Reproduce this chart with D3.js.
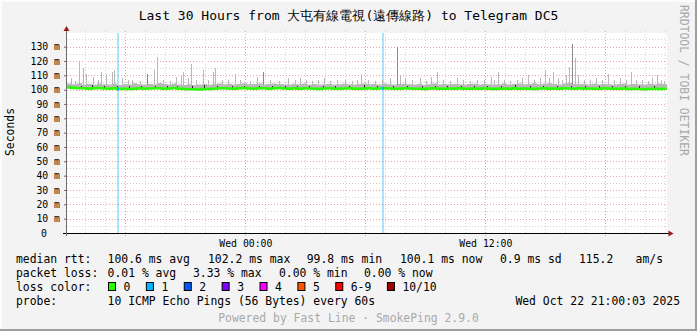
<!DOCTYPE html>
<html>
<head>
<meta charset="utf-8">
<script src="https://cdn.jsdelivr.net/npm/d3@7"></script>
<style>
body { margin: 0; background: #f3f3f3; }
svg { display: block; }
text { font-family: "DejaVu Sans Mono", monospace; }
</style>
</head>
<body>
<div id="chart"></div>
<script>
// ---- data ----
const startTime = new Date(2025, 9, 21, 15, 5);
const endTime = new Date(2025, 9, 22, 21, 5);
const stepMinutes = 15;

// median rtt (ms), one value per 15 minutes
const medianRtt = [
    101.4, 101.2, 100.9, 101.0, 100.7, 100.9, 101.1, 100.8, 100.6, 100.9, 100.5, 100.7, 100.4, 100.6, 100.9, 100.7, 100.8, 101.0, 100.9, 100.6,
    100.8, 101.1, 100.7, 100.4, 100.2, 100.3, 100.1, 100.5, 100.4, 100.7, 100.9, 101.0, 100.8, 100.6, 100.9, 101.1, 100.8, 100.7, 101.0, 100.9,
    100.7, 100.9, 101.2, 100.8, 100.6, 100.9, 100.7, 101.0, 100.8, 100.6, 100.5, 100.8, 100.9, 100.7, 100.6, 100.8, 100.9, 100.7, 100.6, 100.8,
    100.9, 100.7, 100.8, 101.0, 100.8, 100.6, 100.7, 100.9, 100.8, 100.6, 100.7, 100.5, 100.8, 100.9, 100.7, 100.6, 100.8, 100.7, 100.9, 100.6,
    100.7, 100.8, 100.6, 100.9, 100.7, 100.5, 100.6, 100.8, 100.7, 100.9, 100.6, 100.8, 100.7, 100.5, 100.8, 100.9, 100.7, 100.8, 100.6, 100.9,
    100.8, 100.6, 100.9, 100.7, 100.8, 100.6, 100.7, 100.9, 100.8, 100.6, 100.7, 100.8, 100.5, 100.7, 100.4, 100.3, 100.5, 100.6, 100.4, 100.7
];

// top of the dense smoke (ms), same steps
const smokeTop = [
    104.2, 103.8, 104.5, 103.6, 104.0, 103.4, 104.3, 103.7, 103.5, 104.1, 103.3, 103.9, 103.6, 104.4, 103.8, 103.5, 104.0, 103.7, 104.6, 103.9,
    103.5, 104.2, 103.6, 103.3, 103.8, 103.2, 103.5, 104.0, 103.4, 103.9, 104.3, 103.8, 104.1, 103.6, 104.0, 104.4, 103.7, 103.9, 104.2, 103.6,
    103.9, 104.3, 104.0, 103.7, 103.5, 104.1, 103.8, 104.2, 103.6, 103.9, 103.4, 103.8, 104.0, 103.6, 103.7, 104.1, 103.8, 103.5, 103.9, 104.2,
    103.7, 104.0, 103.6, 104.3, 103.8, 103.5, 103.9, 104.1, 103.7, 103.6, 104.0, 103.4, 103.8, 104.2, 103.6, 103.9, 103.7, 104.0, 103.8, 103.5,
    103.9, 104.1, 103.6, 104.0, 103.7, 103.5, 103.8, 104.2, 103.6, 103.9, 104.3, 103.7, 104.0, 104.4, 103.8, 104.1, 104.5, 103.9, 103.6, 104.2,
    104.6, 104.0, 103.7, 103.9, 103.6, 104.1, 103.8, 104.0, 103.7, 103.5, 103.9, 104.2, 103.6, 104.0, 103.8, 103.5, 104.1, 103.7, 104.3, 103.9
];

// single high pings (minutes after start, ms)
const spikeMinute = [12, 24, 36, 48, 57, 78, 93, 102, 117, 135, 141, 165, 183, 195, 219, 261, 270, 288, 309, 327,
    342, 348, 363, 372, 387, 408, 423, 438, 444, 465, 483, 504, 519, 549, 570, 609, 636, 663, 684, 699,
    717, 735, 753, 771, 789, 810, 834, 855, 870, 882, 903, 924, 945, 969, 999, 1014, 1035, 1059, 1077, 1092,
    1110, 1128, 1149, 1170, 1188, 1209, 1230, 1251, 1272, 1281, 1293, 1311, 1329, 1350, 1365, 1383, 1401, 1419, 1434, 1446,
    1458, 1473, 1485, 1497, 1506, 1524, 1533, 1551, 1569, 1587, 1605, 1623, 1641, 1659, 1677, 1692, 1707, 1725, 1743, 1755,
    1770, 1782, 1791];
const spikeMs = [108, 106, 119.5, 115, 111, 109, 107, 112, 111, 112, 114, 108, 107, 107, 106, 114, 123, 107, 106, 109,
    110, 112, 108, 118, 107, 114, 107, 112, 115, 107, 107, 111, 107, 106, 109, 107, 106, 108, 107, 108,
    107, 106, 107, 108, 106, 107, 107, 106, 107, 111, 107, 106, 107, 108, 110, 108, 107, 108, 106, 109,
    112, 107, 106, 108, 107, 106, 107, 107, 109, 107, 112, 107, 106, 107, 108, 110, 107, 108, 114, 108,
    112, 108, 107, 110, 116, 122, 110, 107, 107, 108, 107, 111, 107, 108, 107, 112, 107, 107, 106, 108,
    110, 107, 106];

// several high pings in one step (darker smoke)
const darkSpikeMinute = [240, 588, 990, 1515];
const darkSpikeMs = [111, 112, 130, 132];

// near-median dark specks (minutes after start, ms)
const speckMinute = [9, 42, 75, 111, 150, 186, 222, 264, 300, 330, 375, 411, 450, 495, 531, 576, 615, 654, 690, 726,
    768, 804, 846, 891, 930, 978, 1020, 1065, 1104, 1140, 1182, 1221, 1260, 1302, 1344, 1389, 1428, 1470, 1512, 1554,
    1596, 1635, 1674, 1716, 1761];
const speckMs = [102.6, 102.3, 102.9, 102.4, 102.7, 102.2, 102.5, 102.8, 102.3, 102.6, 102.4, 102.9, 102.5, 102.3, 102.7, 102.4, 102.8, 102.2, 102.6, 102.5,
    102.3, 102.7, 102.4, 102.9, 102.5, 102.3, 102.6, 102.8, 102.4, 102.5, 102.7, 102.3, 102.6, 102.4, 102.9, 102.5, 102.3, 102.7, 102.6, 102.4,
    102.8, 102.5, 102.3, 102.6, 102.4];

// loss events (minutes after start, pings lost of 10)
const lossMinute = [150, 945];
const lossCount = [1, 1];

const lossLabels = ["0", "1", "2", "3", "4", "5", "6-9", "10/10"];
const lossColors = ["#26ff00", "#00b8ff", "#0059ff", "#7e00ff", "#ff00ff", "#ff5500", "#ff0000", "#a10000"];

const yTicks = [0, 10, 20, 30, 40, 50, 60, 70, 80, 90, 100, 110, 120, 130];

const title = "Last 30 Hours from 大屯有線電視(遠傳線路) to Telegram DC5";
const rttStats = ["median rtt:", "100.6 ms avg", "102.2 ms max", "99.8 ms min", "100.1 ms now", "0.9 ms sd", "115.2", "am/s"];
const lossStats = ["packet loss:", "0.01 % avg", "3.33 % max", "0.00 % min", "0.00 % now"];
const probeInfo = ["probe:", "10 ICMP Echo Pings (56 Bytes) every 60s", "Wed Oct 22 21:00:03 2025"];
const footer = "Powered by Fast Line · SmokePing 2.9.0";
const watermark = "RRDTOOL / TOBI OETIKER";

// ---- drawing ----
function drawChart() {
    const width = 697, height = 331;
    const plot = { left: 67, right: 667, top: 33, bottom: 233 };

    const svg = d3.select("#chart").append("svg")
        .attr("width", width)
        .attr("height", height);

    // canvas + 3d frame
    svg.append("rect").attr("width", width).attr("height", height).attr("fill", "#f3f3f3");
    svg.append("rect").attr("x", 0).attr("y", 0).attr("width", width).attr("height", 2).attr("fill", "#fcfcfc");
    svg.append("rect").attr("x", 0).attr("y", 0).attr("width", 2).attr("height", height).attr("fill", "#fcfcfc");
    svg.append("rect").attr("x", width - 2).attr("y", 0).attr("width", 2).attr("height", height).attr("fill", "#9e9e9e");
    svg.append("rect").attr("x", 0).attr("y", height - 2).attr("width", width).attr("height", 2).attr("fill", "#9e9e9e");

    const x = d3.scaleTime().domain([startTime, endTime]).range([plot.left, plot.right]);
    const y = d3.scaleLinear().domain([0, 139.5]).range([plot.bottom, plot.top]);
    const atMin = m => new Date(startTime.getTime() + m * 60000);

    svg.append("rect")
        .attr("x", plot.left).attr("y", plot.top)
        .attr("width", plot.right - plot.left).attr("height", plot.bottom - plot.top)
        .attr("fill", "#ffffff");

    // grid
    const grid = svg.append("g").attr("shape-rendering", "crispEdges");
    const minorY = d3.range(5, 140, 10);
    grid.selectAll(".ymin").data(minorY).join("line")
        .attr("x1", plot.left).attr("x2", plot.right)
        .attr("y1", d => Math.round(y(d)) + 0.5).attr("y2", d => Math.round(y(d)) + 0.5)
        .attr("stroke", "#d4d4d4").attr("stroke-dasharray", "1,2");
    grid.selectAll(".ymaj").data(yTicks.slice(1)).join("line")
        .attr("x1", plot.left - 3).attr("x2", plot.right)
        .attr("y1", d => Math.round(y(d)) + 0.5).attr("y2", d => Math.round(y(d)) + 0.5)
        .attr("stroke", "#f0a0a0").attr("stroke-dasharray", "1,2");

    const hours = d3.timeHour.range(d3.timeHour.ceil(startTime), endTime);
    grid.selectAll(".xg").data(hours).join("line")
        .attr("x1", d => Math.round(x(d)) + 0.5).attr("x2", d => Math.round(x(d)) + 0.5)
        .attr("y1", plot.top - 2).attr("y2", d => d.getHours() % 6 === 0 ? plot.bottom + 3 : plot.bottom)
        .attr("stroke", d => d.getHours() % 6 === 0 ? "#f0a0a0" : "#d4d4d4")
        .attr("stroke-dasharray", "1,2");

    // loss background bars
    svg.append("g").attr("shape-rendering", "crispEdges")
        .selectAll("rect").data(lossMinute).join("rect")
        .attr("x", d => Math.round(x(atMin(d))))
        .attr("y", plot.top)
        .attr("width", 2)
        .attr("height", plot.bottom - plot.top)
        .attr("fill", (d, i) => lossColors[Math.min(lossCount[i], 7)])
        .attr("fill-opacity", 0.35);

    // smoke
    const steps = medianRtt.map((v, i) => ({ t: atMin(i * stepMinutes), med: v, top: smokeTop[i] }));
    steps.push({ t: endTime, med: medianRtt[medianRtt.length - 1], top: smokeTop[smokeTop.length - 1] });

    svg.append("path")
        .datum(steps)
        .attr("fill", "#b8b8b8")
        .attr("d", d3.area().curve(d3.curveStepAfter)
            .x(d => x(d.t)).y0(d => y(d.med)).y1(d => y(d.top)));

    const spikes = svg.append("g").attr("shape-rendering", "crispEdges");
    spikes.selectAll(".sp").data(spikeMinute).join("line")
        .attr("x1", d => Math.round(x(atMin(d))) + 0.5).attr("x2", d => Math.round(x(atMin(d))) + 0.5)
        .attr("y1", y(103)).attr("y2", (d, i) => y(spikeMs[i]))
        .attr("stroke", "#b8b8b8");
    spikes.selectAll(".dsp").data(darkSpikeMinute).join("line")
        .attr("x1", d => Math.round(x(atMin(d))) + 0.5).attr("x2", d => Math.round(x(atMin(d))) + 0.5)
        .attr("y1", y(103)).attr("y2", (d, i) => y(darkSpikeMs[i]))
        .attr("stroke", "#8c8c8c");
    spikes.selectAll(".sk").data(speckMinute).join("rect")
        .attr("x", d => Math.round(x(atMin(d))))
        .attr("y", (d, i) => y(speckMs[i]))
        .attr("width", 1).attr("height", 3)
        .attr("fill", "#222");

    // median line
    svg.append("path")
        .datum(steps)
        .attr("fill", "none")
        .attr("stroke", lossColors[0])
        .attr("stroke-width", 2.5)
        .attr("d", d3.line().curve(d3.curveStepAfter).x(d => x(d.t)).y(d => y(d.med)));

    svg.append("g").selectAll("rect").data(lossMinute).join("rect")
        .attr("x", d => Math.round(x(atMin(d))))
        .attr("y", d => y(medianRtt[Math.floor(d / stepMinutes)]) - 1.5)
        .attr("width", 2).attr("height", 3)
        .attr("fill", (d, i) => lossColors[Math.min(lossCount[i], 7)]);

    // axes
    const yAxis = svg.append("g")
        .attr("transform", `translate(${plot.left},0)`)
        .call(d3.axisLeft(y).tickValues(yTicks).tickSize(3).tickPadding(4)
            .tickFormat(d => d === 0 ? "0" : d + " m"));
    yAxis.select(".domain").remove();
    yAxis.selectAll(".tick line").attr("stroke", "#777");
    yAxis.selectAll("text")
        .style("font-family", "DejaVu Sans Mono")
        .style("font-size", "9.8px")
        .attr("fill", "#000")
        .attr("dx", d => d === 0 ? -13 : 0);

    const xAxis = svg.append("g")
        .attr("transform", `translate(0,${plot.bottom})`)
        .call(d3.axisBottom(x).tickValues(hours.filter(h => h.getHours() % 12 === 0))
            .tickSize(0).tickPadding(7).tickFormat(d3.timeFormat("%a %H:%M")));
    xAxis.select(".domain").remove();
    xAxis.selectAll("text")
        .style("font-family", "DejaVu Sans Mono")
        .style("font-size", "9.8px")
        .attr("fill", "#000");

    svg.append("line")
        .attr("x1", plot.left - 4).attr("x2", plot.right + 2)
        .attr("y1", plot.bottom + 0.5).attr("y2", plot.bottom + 0.5)
        .attr("stroke", "#000").attr("shape-rendering", "crispEdges");
    svg.append("line")
        .attr("x1", plot.left - 0.5).attr("x2", plot.left - 0.5)
        .attr("y1", plot.bottom + 3).attr("y2", plot.top - 3)
        .attr("stroke", "#6e6e6e").attr("shape-rendering", "crispEdges");
    svg.append("path")
        .attr("d", `M${plot.left - 3.5},${plot.top - 2}L${plot.left - 0.5},${plot.top - 7}L${plot.left + 2.5},${plot.top - 2}Z`)
        .attr("fill", "#9b1b1b");
    svg.append("path")
        .attr("d", `M${plot.right + 1.5},${plot.bottom - 2.5}L${plot.right + 6.5},${plot.bottom + 0.5}L${plot.right + 1.5},${plot.bottom + 3.5}Z`)
        .attr("fill", "#9b1b1b");

    // texts
    svg.append("text")
        .attr("x", width / 2).attr("y", 19.5)
        .attr("text-anchor", "middle")
        .style("font-size", "13px")
        .text(title);

    svg.append("text")
        .attr("transform", "translate(14,132) rotate(-90)")
        .attr("text-anchor", "middle")
        .style("font-size", "11.4px")
        .text("Seconds");

    svg.append("text")
        .attr("transform", "translate(680,5) rotate(90)")
        .style("font-size", "11.4px")
        .attr("fill", "#a8a8a8")
        .text(watermark);

    const legend = svg.append("g").style("font-size", "11.4px");
    const rttX = [16, 107.6, 208, 306.7, 400, 500, 579, 635.6];
    legend.selectAll(".rtt").data(rttStats).join("text")
        .attr("x", (d, i) => rttX[i]).attr("y", 263).text(d => d);
    const lossX = [16, 107.6, 193, 279, 364];
    legend.selectAll(".loss").data(lossStats).join("text")
        .attr("x", (d, i) => lossX[i]).attr("y", 277).text(d => d);

    legend.append("text").attr("x", 16).attr("y", 290.5).text("loss color:");
    const charW = 6.88;
    let bx = 108;
    lossLabels.forEach((lab, i) => {
        legend.append("rect")
            .attr("x", bx + 0.5).attr("y", 282.5).attr("width", 7).attr("height", 8)
            .attr("fill", lossColors[i]).attr("stroke", "#000");
        legend.append("text").attr("x", bx + 15.5).attr("y", 290.5).text(lab);
        bx = bx + 15.5 + lab.length * charW + 15.5;
    });

    legend.append("text").attr("x", 16).attr("y", 305).text(probeInfo[0]);
    legend.append("text").attr("x", 107.6).attr("y", 305).text(probeInfo[1]);
    legend.append("text").attr("x", 680).attr("y", 305).attr("text-anchor", "end").text(probeInfo[2]);

    legend.append("text")
        .attr("x", width / 2).attr("y", 322)
        .attr("text-anchor", "middle")
        .attr("fill", "#aaaaaa")
        .text(footer);
}

drawChart();
</script>
</body>
</html>
